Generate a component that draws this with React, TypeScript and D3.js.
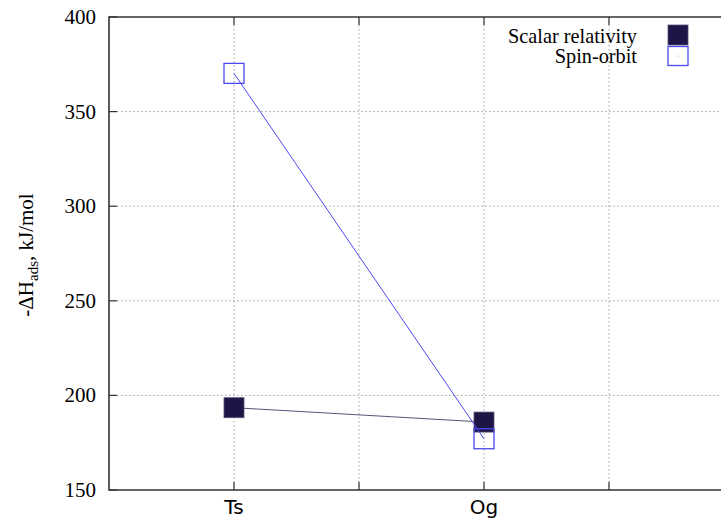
import { useEffect } from "react";
import * as d3 from "d3";

// category positions on the x axis (gnuplot-style numeric x)
const categories = ["Ts", "Og"];
const categoryX = [1, 2];
const xGridTicks = [1, 1.5, 2, 2.5];

const yTicks = [150, 200, 250, 300, 350, 400];

const scalarRelativity = [193.5, 185.9];
const spinOrbit = [370.2, 177.1];

const seriesNames = ["Scalar relativity", "Spin-orbit"];

const W = 721;
const H = 518;
const margin = { top: 17, left: 109, bottom: 28 };

export default function App() {
  useEffect(() => {
    document.body.style.margin = "0";
  }, []);

  const x = d3.scaleLinear().domain([0.5, 3]).range([margin.left, margin.left + 625]);
  const y = d3.scaleLinear().domain([150, 400]).range([H - margin.bottom, margin.top]);

  const x0 = x(0.5);
  const y0 = y(150);
  const y1 = y(400);

  const line = d3
    .line<number>()
    .x((_, i) => x(categoryX[i]))
    .y((d) => y(d));

  const serif = "Liberation Serif, Times New Roman, DejaVu Serif, serif";
  const sans = "DejaVu Sans, sans-serif";
  const axisColor = "#333";
  const gridColor = "#a0a0a0";
  const scalarFill = "#1e1446";
  const spinColor = "#4a4af0";
  const ms = 20;

  return (
    <svg width={W} height={H} style={{ display: "block", background: "#fff" }}>
      {/* grid */}
      {yTicks.slice(1, -1).map((t) => (
        <line
          key={"gy" + t}
          x1={x0}
          x2={W}
          y1={y(t)}
          y2={y(t)}
          stroke={gridColor}
          strokeWidth={1}
          strokeDasharray="1.5,2.5"
        />
      ))}
      {xGridTicks.map((t) => (
        <line
          key={"gx" + t}
          x1={x(t)}
          x2={x(t)}
          y1={y1}
          y2={y0}
          stroke={gridColor}
          strokeWidth={1}
          strokeDasharray="1.5,2.5"
        />
      ))}

      {/* y ticks & labels */}
      {yTicks.map((t) => (
        <g key={"ty" + t}>
          <line x1={x0} x2={x0 + 8} y1={y(t)} y2={y(t)} stroke={axisColor} strokeWidth={1.2} />
          <text
            x={96}
            y={y(t)}
            dy="0.33em"
            textAnchor="end"
            style={{ fontFamily: serif }}
            fontSize={21}
            fill="#000"
          >
            {t}
          </text>
        </g>
      ))}

      {/* x ticks (bottom + mirrored top) */}
      {xGridTicks.map((t) => (
        <g key={"tx" + t}>
          <line x1={x(t)} x2={x(t)} y1={y0} y2={y0 - 8} stroke={axisColor} strokeWidth={1.2} />
          <line x1={x(t)} x2={x(t)} y1={y1} y2={y1 + 8} stroke={axisColor} strokeWidth={1.2} />
        </g>
      ))}
      {categories.map((c, i) => (
        <text
          key={c}
          x={x(categoryX[i])}
          y={514}
          textAnchor="middle"
          style={{ fontFamily: sans }}
          fontSize={20}
          fill="#000"
        >
          {c}
        </text>
      ))}

      {/* border */}
      <path
        d={`M${W},${y1}H${x0}V${y0}H${W}`}
        fill="none"
        stroke={axisColor}
        strokeWidth={1.6}
      />

      {/* y axis title */}
      <text
        transform={`translate(33, 255) rotate(-90)`}
        textAnchor="middle"
        style={{ fontFamily: serif }}
        fontSize={21}
        fill="#000"
      >
        -ΔH
        <tspan fontSize={15} dy={5}>
          ads
        </tspan>
        <tspan dy={-5}>, kJ/mol</tspan>
      </text>

      {/* scalar relativity */}
      <path d={line(scalarRelativity) || ""} fill="none" stroke="#55557a" strokeWidth={1} />
      {scalarRelativity.map((v, i) => (
        <rect
          key={"s" + i}
          x={x(categoryX[i]) - ms / 2}
          y={y(v) - ms / 2}
          width={ms}
          height={ms}
          fill={scalarFill}
          stroke="#5a5278"
          strokeWidth={0.8}
        />
      ))}

      {/* spin-orbit */}
      <path d={line(spinOrbit) || ""} fill="none" stroke={spinColor} strokeWidth={1} />
      {spinOrbit.map((v, i) => (
        <rect
          key={"o" + i}
          x={x(categoryX[i]) - ms / 2}
          y={y(v) - ms / 2}
          width={ms}
          height={ms}
          fill="none"
          stroke={spinColor}
          strokeWidth={1.3}
        />
      ))}

      {/* legend */}
      <text x={637} y={43} textAnchor="end" style={{ fontFamily: serif }} fontSize={20.3} fill="#000">
        {seriesNames[0]}
      </text>
      <rect x={668} y={25} width={20} height={20} fill={scalarFill} stroke="#5a5278" strokeWidth={0.8} />
      <text x={637} y={63} textAnchor="end" style={{ fontFamily: serif }} fontSize={20.3} fill="#000">
        {seriesNames[1]}
      </text>
      <rect x={668} y={46.5} width={20} height={19} fill="none" stroke={spinColor} strokeWidth={1.3} />
      <circle cx={678} cy={56} r={0.5} fill="#8888cc" />
    </svg>
  );
}
